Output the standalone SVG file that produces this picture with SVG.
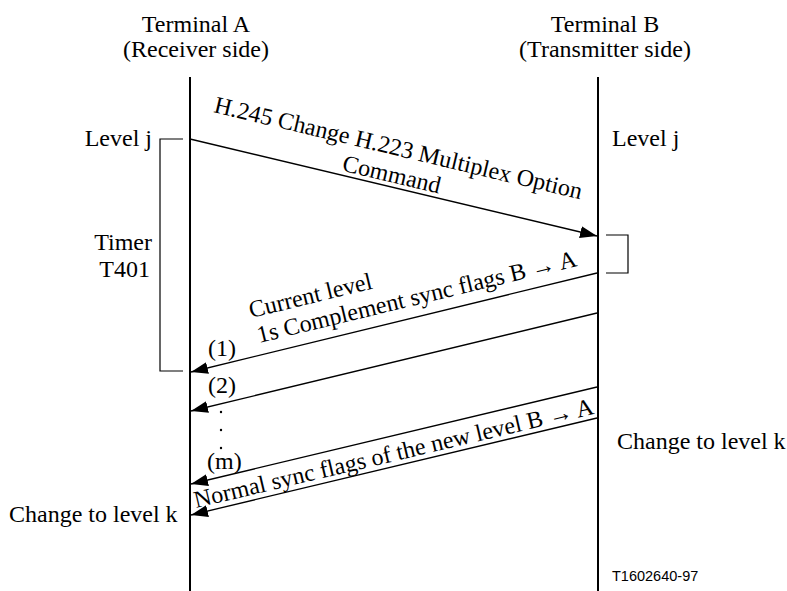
<svg xmlns="http://www.w3.org/2000/svg" width="787" height="591" viewBox="0 0 787 591">
<style>
  text { font-family: "Liberation Serif", "Times New Roman", serif; font-size: 24px; fill: #000; }
  .id { font-family: "Liberation Sans", Arial, sans-serif; font-size: 14.5px; }
  .life { stroke: #000; stroke-width: 2; fill: none; }
  .msg { stroke: #000; stroke-width: 1.3; fill: none; marker-end: url(#ah); }
  .brk { stroke: #000; stroke-width: 1.2; fill: none; }
</style>
<defs>
  <marker id="ah" markerUnits="userSpaceOnUse" markerWidth="18" markerHeight="12" viewBox="0 0 18 12" refX="17" refY="6" orient="auto">
    <path d="M0,0 L17,6 L0,12 Z" fill="#000"/>
  </marker>
</defs>
<rect width="787" height="591" fill="#fff"/>
<g id="terminal-a">
  <text x="196" y="32" text-anchor="middle">Terminal A</text>
  <text x="196" y="57" text-anchor="middle">(Receiver side)</text>
  <line class="life" x1="190" y1="77" x2="190" y2="591"/>
</g>
<g id="terminal-b">
  <text x="605" y="32" text-anchor="middle">Terminal B</text>
  <text x="605" y="57" text-anchor="middle">(Transmitter side)</text>
  <line class="life" x1="598" y1="77" x2="598" y2="591"/>
</g>
<g id="timer">
  <path class="brk" d="M183,139 H160 V371 H183"/>
  <text x="152" y="146" text-anchor="end">Level j</text>
  <text x="152" y="250" text-anchor="end">Timer</text>
  <text x="150" y="277" text-anchor="end">T401</text>
</g>
<g id="b-state">
  <path class="brk" d="M606,235 H628 V273 H606"/>
  <text x="612" y="146">Level j</text>
  <text x="617" y="449">Change to level k</text>
</g>
<g id="a-state">
  <text x="9" y="522">Change to level k</text>
</g>
<g id="connectors">
  <line class="msg" x1="190" y1="139" x2="597" y2="236"/>
  <line class="msg" x1="597" y1="273" x2="191" y2="372"/>
  <line class="msg" x1="597" y1="313" x2="191" y2="411"/>
  <line class="msg" x1="597" y1="387" x2="191" y2="484"/>
  <line class="msg" x1="597" y1="418" x2="191" y2="515"/>
</g>
<g id="labels">
  <text transform="translate(213,112) rotate(13.37)">H.245 Change H.223 Multiplex Option</text>
  <text transform="translate(390,182) rotate(13.37)" text-anchor="middle">Command</text>
  <text transform="translate(251,318) rotate(-13.6)">Current level</text>
  <text transform="translate(259,343) rotate(-13.6)">1s Complement sync flags B → A</text>
  <text transform="translate(196,508) rotate(-13.3)">Normal sync flags of the new level B → A</text>
  <text x="208" y="356">(1)</text>
  <text x="208" y="393">(2)</text>
  <circle cx="221" cy="412" r="1.2"/>
  <circle cx="221" cy="430" r="1.2"/>
  <circle cx="221" cy="448" r="1.2"/>
  <text x="207" y="469">(m)</text>
  <text class="id" x="612" y="581">T1602640-97</text>
</g>
</svg>
